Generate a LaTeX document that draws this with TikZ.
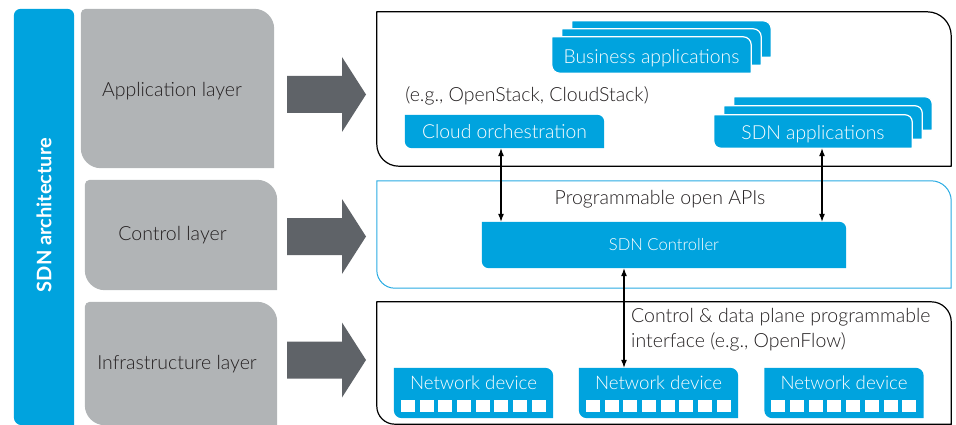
\documentclass[tikz,border=0pt]{standalone}
\usepackage{fontspec}
\IfFontExistsTF{Lato Light}{\setmainfont{Lato Light}[BoldFont=Lato Bold]}{\setmainfont{Lato}}
\usetikzlibrary{arrows.meta}
\pgfdeclarelayer{bg}
\pgfsetlayers{bg,main}
\definecolor{sdnblue}{HTML}{00A3DE}
\definecolor{grayboxc}{HTML}{B1B4B6}
\definecolor{arrowgray}{HTML}{5F6368}
\definecolor{ctrlblue}{HTML}{29ABE2}
\definecolor{txtdark}{HTML}{231F20}
% custom corner shape behind a named node: #1 node, #2 style, radii tl tr br bl
\newcommand\rrshape[6]{%
\begin{pgfonlayer}{bg}
\path[#2] ([yshift=-#3pt]#1.north west) arc[start angle=180,end angle=90,radius=#3pt]
 -- ([xshift=-#4pt]#1.north east) arc[start angle=90,end angle=0,radius=#4pt]
 -- ([yshift=#5pt]#1.south east) arc[start angle=0,end angle=-90,radius=#5pt]
 -- ([xshift=#6pt]#1.south west) arc[start angle=-90,end angle=-180,radius=#6pt]
 -- cycle;
\end{pgfonlayer}}
\newcommand\blockarrow[1]{%
\fill[arrowgray] (287,#1-18.5) -- (342,#1-18.5) -- (342,#1-37.5) -- (366,#1)
 -- (342,#1+37.5) -- (342,#1+18.5) -- (287,#1+18.5) -- cycle;}
\begin{document}
\begin{tikzpicture}[x=1pt,y=-1pt,
  frame/.style 2 args={inner sep=0pt, minimum width=#1pt, minimum height=#2pt},
  lbl/.style={font=\fontsize{19.5}{25}\selectfont, text=txtdark, inner sep=0pt},
  wlbl/.style={font=\fontsize{19.3}{22}\selectfont, text=white, inner sep=0pt},
  stackbox/.style={fill=sdnblue, draw=white, line width=1.2pt},
  dbl/.style={{Latex[length=8pt,width=6pt]}-{Latex[length=8pt,width=6pt]}, line width=1.1pt, draw=black}]
\useasboundingbox (0,0) rectangle (956,425);

% left blue bar
\node[frame={60}{416}] (bar) at (44,217) {};
\rrshape{bar}{fill=sdnblue}{7}{7}{0.01}{8}
\node[rotate=90, font=\fontsize{20}{22}\selectfont\bfseries, text=white, inner sep=0pt] (sdnarch) at (44,215) {SDN architecture};

% gray layer boxes
\node[frame={193}{159}] (gapp) at (177.5,88.5) {};
\rrshape{gapp}{fill=grayboxc}{5}{20}{0.01}{20}
\node[frame={192}{110}] (gctrl) at (181,235) {};
\rrshape{gctrl}{fill=grayboxc}{5}{20}{0.01}{20}
\node[frame={192}{123}] (ginfra) at (181,363.5) {};
\rrshape{ginfra}{fill=grayboxc}{5}{20}{0.01}{20}
\node[lbl] (lapp) at (172,91) {Application layer};
\node[lbl] (lctrl) at (172.5,235.5) {Control layer};
\node[lbl] (linfra) at (177,364) {Infrastructure layer};

% block arrows
\blockarrow{94.5}
\blockarrow{236.5}
\blockarrow{360}

% panels
\node[frame={574}{154}] (papp) at (664,89) {};
\rrshape{papp}{draw=black, line width=1.2pt}{0.01}{24}{0.01}{22}
\node[frame={574}{107}] (pctrl) at (664,234.5) {};
\rrshape{pctrl}{draw=ctrlblue, line width=1pt}{0.01}{20}{0.01}{18}
\node[frame={574}{122}] (pinfra) at (664,363) {};
\rrshape{pinfra}{draw=black, line width=1.2pt}{0.01}{20}{0.01}{18}

% application layer content
\node[frame={199}{36}] (biz3) at (671.5,39) {};
\rrshape{biz3}{stackbox}{0.01}{8}{0.01}{8}
\node[frame={199}{36}] (biz2) at (661.5,47) {};
\rrshape{biz2}{stackbox}{0.01}{8}{0.01}{8}
\node[frame={199}{36}, wlbl, text height=16.5pt, text depth=0pt] (biz) at (651.5,55) {Business applications};
\rrshape{biz}{stackbox}{0.01}{8}{0.01}{8}

\node[lbl] (eg) at (527,96) {(e.g., OpenStack, CloudStack)};
\node[frame={199}{33}, wlbl, text height=14.5pt, text depth=0pt] (cloud) at (504.5,131.5) {Cloud orchestration};
\rrshape{cloud}{fill=sdnblue}{0.01}{7}{0.01}{7}

\node[frame={198}{33}] (app3) at (833,113.5) {};
\rrshape{app3}{stackbox}{0.01}{7}{0.01}{7}
\node[frame={198}{33}] (app2) at (823,122.5) {};
\rrshape{app2}{stackbox}{0.01}{7}{0.01}{7}
\node[frame={198}{33}, wlbl, text height=17pt, text depth=0pt] (sdnapp) at (813,131.5) {SDN applications};
\rrshape{sdnapp}{stackbox}{0.01}{7}{0.01}{7}

% control layer content
\node[lbl] (apis) at (660,199) {Programmable open APIs};
\node[frame={364}{46}, font=\fontsize{16.6}{20}\selectfont, text=white] (ctrl) at (664,245) {SDN Controller};
\rrshape{ctrl}{fill=sdnblue}{0.01}{7}{0.01}{7}

% infrastructure content
\node[lbl, anchor=west, align=left] (cdp) at (631,329.5) {Control \& data plane programmable\\interface (e.g., OpenFlow)};
\foreach \d/\cx in {dev1/473.5, dev2/658.5, dev3/844}{
  \node[frame={159}{50}] (\d) at (\cx,393) {};
  \rrshape{\d}{fill=sdnblue}{0.01}{8}{0.01}{8}
  \node[wlbl, font=\fontsize{18.7}{22}\selectfont] (\d t) at ([yshift=10pt]\d.center) {Network device};
  \foreach \i in {0,...,7}{
    \pgfmathsetmacro\px{7+\i*18.7}
    \fill[white] ([xshift=\px pt, yshift=-7pt]\d.west) rectangle ++(14pt,-12pt);
  }
}

% connectors
\coordinate (la) at ([xshift=-3.5pt]cloud.south);
\draw[dbl] (la) -- (la |- ctrl.north);
\coordinate (ra) at ([xshift=9pt]sdnapp.south);
\draw[dbl] (ra) -- (ra |- ctrl.north);
\coordinate (ba) at ([xshift=-40pt]ctrl.south);
\draw[dbl] (ba) -- (ba |- dev2.north);
\end{tikzpicture}
\end{document}
